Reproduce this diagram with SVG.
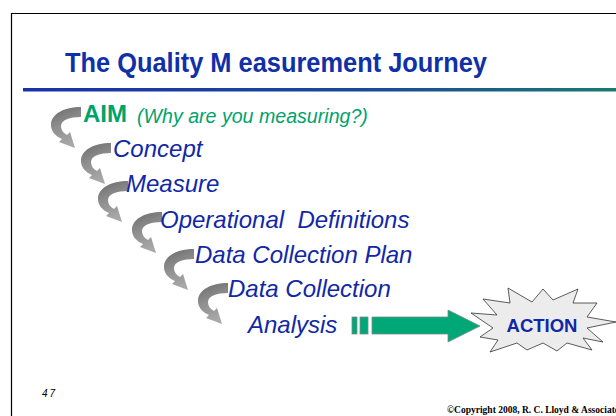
<svg xmlns="http://www.w3.org/2000/svg" width="616" height="416" viewBox="0 0 616 416">
<defs>
<linearGradient id="rule" x1="0" y1="0" x2="1" y2="0">
<stop offset="0" stop-color="#1a32a8"/>
<stop offset="0.6" stop-color="#1a4a98"/>
<stop offset="1" stop-color="#1a7a70"/>
</linearGradient>
<linearGradient id="gray" x1="0" y1="0" x2="0.3" y2="1">
<stop offset="0" stop-color="#6a6a6a"/>
<stop offset="0.5" stop-color="#8e8e8e"/>
<stop offset="1" stop-color="#a8a8a8"/>
</linearGradient>
<path id="curl" d="M30,0 L30,10 C19,10 10,13 10,19 C10,23 12,26 16,28 L19,25 L24,41 L8,35 L11,32 C4,29 0,24 0,18 C0,7 13,0 30,0 Z"/>
<style>
.step{font-family:"Liberation Sans",Arial,sans-serif;font-style:italic;font-size:24px;fill:#1128a6}
.green{fill:#00a36c;font-family:"Liberation Sans",Arial,sans-serif}
.curl{fill:url(#gray)}
</style>
</defs>
<rect width="616" height="416" fill="#ffffff"/>
<path d="M11.5,416 V13.5 H616" fill="none" stroke="#000" stroke-width="1.2"/>
<text x="65" y="72" font-family="Liberation Sans,Arial,sans-serif" font-weight="bold" font-size="27" fill="#1030a8" textLength="422" lengthAdjust="spacingAndGlyphs">The Quality M easurement Journey</text>
<rect x="23" y="88" width="593" height="3.5" fill="url(#rule)"/>

<g id="connectors">
<use href="#curl" class="curl" transform="translate(51,107)"/>
<use href="#curl" class="curl" transform="translate(81,143)"/>
<use href="#curl" class="curl" transform="translate(98,181)"/>
<use href="#curl" class="curl" transform="translate(132,212)"/>
<use href="#curl" class="curl" transform="translate(164,249)"/>
<use href="#curl" class="curl" transform="translate(198,283)"/>
<g id="green-arrow" fill="#00a878" stroke="#7a8a84" stroke-width="0.8">
<rect x="352" y="317" width="5" height="17"/>
<rect x="360" y="317" width="8" height="17"/>
<path d="M372,317 H448 V310 L480,326 L448,342 V334 H372 Z"/>
</g>
</g>

<g id="aim">
<text x="83" y="122" class="green" font-weight="bold" font-size="24">AIM</text>
<text x="137" y="123" class="green" font-style="italic" font-size="19.6">(Why are you measuring?)</text>
</g>
<g id="concept"><text x="113" y="157" class="step">Concept</text></g>
<g id="measure"><text x="126" y="192" class="step">Measure</text></g>
<g id="operational"><text x="160" y="228" class="step" xml:space="preserve">Operational  Definitions</text></g>
<g id="plan"><text x="195" y="263" class="step">Data Collection Plan</text></g>
<g id="collection"><text x="228" y="297" class="step">Data Collection</text></g>
<g id="analysis"><text x="248" y="333" class="step">Analysis</text></g>

<g id="action">
<polygon points="471,313 497,315 483,299 510,303 508,288 532,302 543,289 553,300 578,289 573,303 597,303 587,317 616,322 587,328 603,342 583,338 592,350 567,343 557,351 543,343 527,350 517,343 490,352 498,340 480,337 493,328" fill="#ececec" stroke="#333" stroke-width="0.8" stroke-linejoin="miter"/>
<text x="542" y="332" text-anchor="middle" font-family="Liberation Sans,Arial,sans-serif" font-weight="bold" font-size="18.5" fill="#1128a6">ACTION</text>
</g>

<text x="42" y="397" font-family="Liberation Sans,Arial,sans-serif" font-style="italic" font-size="10" letter-spacing="2" fill="#000">47</text>
<text x="447" y="413" font-family="Liberation Serif,Times New Roman,serif" font-weight="bold" font-size="9.5" fill="#000">©Copyright 2008, R. C. Lloyd &amp; Associates</text>
</svg>
